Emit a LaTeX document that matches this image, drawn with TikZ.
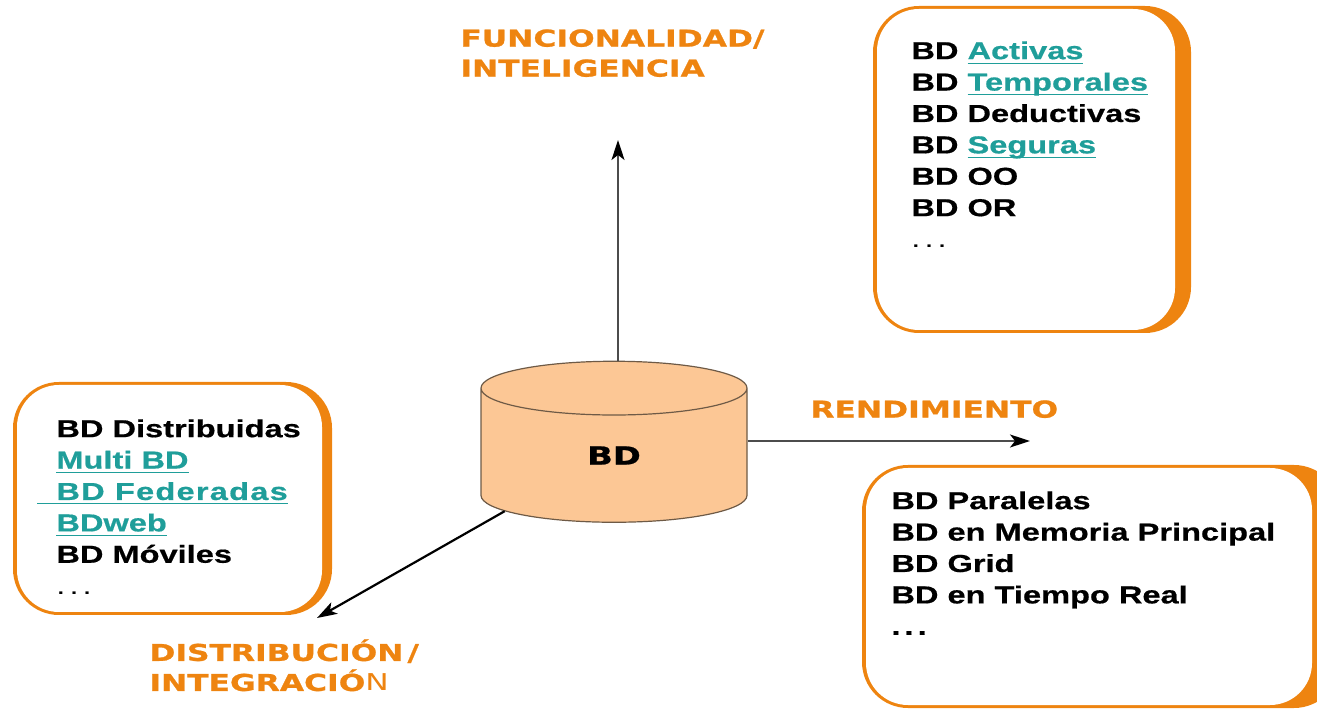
\documentclass[tikz,border=0pt]{standalone}
\usepackage{fontspec}
\setmainfont{Liberation Sans}[FakeStretch=1.33,BoldFeatures={FakeBold=0.6}]
\newfontfamily\titlefont{DejaVu Sans}[FakeStretch=1.35,BoldFeatures={FakeBold=1}]
\usetikzlibrary{shapes.geometric,arrows.meta}
\definecolor{edgeorange}{HTML}{EE8410}
\definecolor{linkteal}{HTML}{1F9E9A}
\definecolor{bdfill}{HTML}{FCC795}
\definecolor{bdedge}{HTML}{6E5A46}
\newsavebox{\lnkbox}
\newcommand{\lnk}[1]{\textcolor{linkteal}{\sbox{\lnkbox}{#1}\rlap{\rule[-2.2pt]{\wd\lnkbox}{0.5pt}}\usebox{\lnkbox}}}
\tikzset{
	listtext/.style = {anchor=north west, align=left, inner sep=0pt, font=\fontsize{12.25}{15.7}\selectfont\bfseries},
	axistitle/.style = {anchor=north west, align=left, inner sep=0pt, text=edgeorange, font=\titlefont\fontsize{11.6}{15}\selectfont\bfseries},
	flow/.style = {draw=black!70, line width=0.8pt, -{Stealth[black,length=10pt,width=6.5pt,inset=2.5pt]}},
	flowbold/.style = {draw=black, line width=1.1pt, -{Stealth[length=10pt,width=6.5pt,inset=2.5pt]}},
	boxedge/.style = {fill=edgeorange, rounded corners=23pt},
	boxface/.style = {fill=white, rounded corners=21pt},
	bdcyl/.style = {cylinder, shape border rotate=90, shape aspect=1, draw=bdedge, line width=0.6pt, fill=bdfill, inner sep=0pt, minimum width=133pt, minimum height=80.5pt, font=\titlefont\fontsize{12.5}{15}\selectfont\bfseries}
}
\begin{document}
\begin{tikzpicture}[x=0.5pt,y=-0.5pt]
\clip (0,0) rectangle (1317,710);
\useasboundingbox (0,0) rectangle (1317,710);
% boxes
\fill [boxedge] (873,6) rectangle (1191,333);
\fill [boxface] (877,9) rectangle (1175,330);
\fill [boxedge] (13,382) rectangle (332,615);
\fill [boxface] (17,385) rectangle (322,612);
\fill [boxedge] (862,465) rectangle (1340,708);
\fill [boxface] (866,468) rectangle (1312,705);
% lists
\node [listtext] (activas) at (911,41) {BD \lnk{Activas}\\BD \lnk{Temporales}\\BD Deductivas\\BD \lnk{Seguras}\\BD OO\\BD OR\\{\mdseries .\,.\,.}};
\node [listtext] (distrib) at (56,419) {BD Distribuidas\\\lnk{Multi BD}\\\llap{\textcolor{linkteal}{\rule[-2.2pt]{9.5pt}{0.5pt}}}\lnk{\addfontfeature{LetterSpace=5}BD Federadas}\\\lnk{BDweb}\\BD Móviles\\{\mdseries .\,.\,.}};
\node [listtext] (paralelas) at (891,491) {BD Paralelas\\BD en Memoria Principal\\BD Grid\\BD en Tiempo Real\\.\,.\,.};
% titles
\node [axistitle] (funcional) at (460,29) {FUNCIONALIDAD/\\INTELIGENCIA};
\node [axistitle] (rendimiento) at (810,400) {RENDIMIENTO};
\node [axistitle] (distribucion) at (149,639) {DISTRIBUCIÓN\kern2pt/\\INTEGRACIÓ{\mdseries N}};
% database and arrows
\node [bdcyl] (bd) at (614,455.5) {BD};
\coordinate (upend) at (618,140);
\coordinate (rightend) at (1030,441);
\coordinate (downend) at (317,618);
\draw [flow] ([xshift=2pt]bd.north) -- (upend);
\draw [flow] (bd.east |- rightend) -- (rightend);
\draw [flowbold] (bd.207) -- (downend);
\end{tikzpicture}
\end{document}
